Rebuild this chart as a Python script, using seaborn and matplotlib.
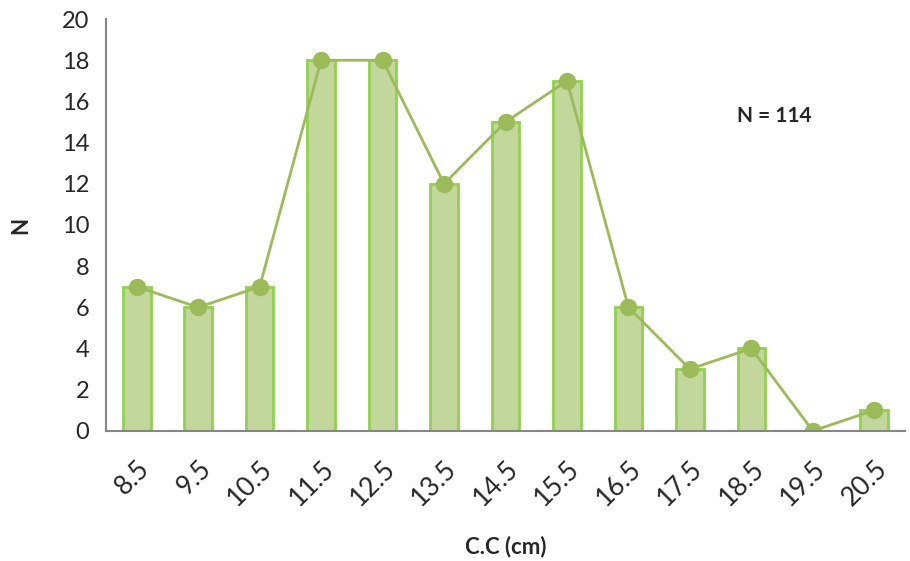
import matplotlib

matplotlib.use("Agg")
import matplotlib.pyplot as plt
import numpy as np
import pandas as pd
import seaborn as sns

classes = ["8.5", "9.5", "10.5", "11.5", "12.5", "13.5", "14.5",
           "15.5", "16.5", "17.5", "18.5", "19.5", "20.5"]
counts = [7, 6, 7, 18, 18, 12, 15, 17, 6, 3, 4, 0, 1]

BAR_FILL = "#c3d69b"
BAR_EDGE = "#92d050"
LINE_COLOR = "#9bbb59"
AXIS_COLOR = "#868686"

sns.set_theme(style="white")
plt.rcParams["font.family"] = ["Lato", "DejaVu Sans"]

df = pd.DataFrame({"cc": classes, "n": counts})

fig = plt.figure(figsize=(9.1, 5.61), dpi=100)
ax = fig.add_axes([0.1165, 0.232, 0.878, 0.734])

sns.barplot(data=df, x="cc", y="n", order=classes, color=BAR_FILL,
            edgecolor=BAR_EDGE, linewidth=2, width=0.45, saturation=1, ax=ax)
sns.pointplot(data=df, x="cc", y="n", order=classes, color=LINE_COLOR,
              markers="o", markersize=11, linewidth=2, ax=ax)

ax.set_xlim(-0.5, len(classes) - 0.5)
ax.set_ylim(0, 20)
ax.set_yticks(np.arange(0, 21, 2))
ax.set_xticks(np.arange(len(classes)))
ax.set_xticklabels(classes, rotation=45, ha="right", rotation_mode="anchor")
ax.set_xticks(np.arange(len(classes) + 1) - 0.5, minor=True)
ax.tick_params(axis="x", which="major", length=0, pad=18, labelsize=19)
ax.tick_params(axis="x", which="minor", length=7, width=1.5, color=AXIS_COLOR, direction="out")
ax.tick_params(axis="y", length=7, width=1.5, color=AXIS_COLOR, direction="out", labelsize=17, pad=5)

sns.despine(ax=ax)
for side in ["left", "bottom"]:
    ax.spines[side].set_color(AXIS_COLOR)
    ax.spines[side].set_linewidth(1.5)

ax.set_xlabel("C.C (cm)", fontsize=16, fontweight="bold", labelpad=18)
ax.set_ylabel("N", fontsize=16, fontweight="bold", labelpad=22)
ax.text(0.79, 0.765, "N = 114", transform=ax.transAxes, fontsize=15,
        fontweight="bold", ha="left", va="center")

fig.savefig("out.png", dpi=100)
